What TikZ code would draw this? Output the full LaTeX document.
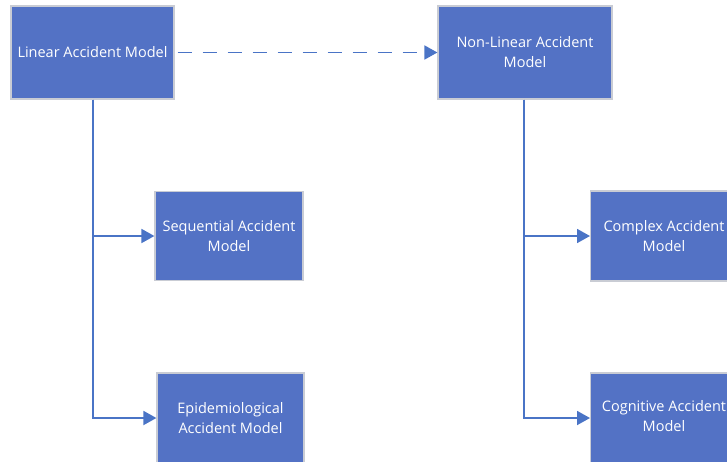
\documentclass[tikz,border=0pt]{standalone}
\usepackage{fontspec}
\setmainfont{Open Sans}
\usetikzlibrary{arrows.meta}
\definecolor{boxfill}{HTML}{5372C5}
\definecolor{boxline}{HTML}{C9CCD4}
\definecolor{linkblue}{HTML}{4A74C6}
\begin{document}
\begin{tikzpicture}[x=1pt,y=-1pt,
  boxtext/.style={text=white, font=\fontsize{14.5}{20}\selectfont, align=center},
  modelbox/.style={draw=boxline, line width=1.2pt, fill=boxfill, boxtext, inner sep=0pt},
  link/.style={draw=linkblue, line width=1.8pt, -{Triangle[length=13pt,width=14pt]}}]
  \useasboundingbox (0,0) rectangle (727,461);
  \clip (0,0) rectangle (727,461);
  % model boxes (corners in pixel coordinates)
  \node[modelbox, minimum width=163pt, minimum height=93pt] (linear) at (92.5,52.5) {Linear Accident Model};
  \node[modelbox, minimum width=174pt, minimum height=93pt] (nonlinear) at (525,52.5) {Non-Linear Accident\\Model};
  \node[modelbox, minimum width=148pt, minimum height=89pt] (sequential) at (229,236) {Sequential Accident\\Model};
  \node[modelbox, minimum width=147pt, minimum height=90pt] (epidemio) at (230.5,418) {Epidemiological\\Accident Model};
  \node[modelbox, minimum width=150pt, minimum height=90pt, anchor=west] (complex) at (590,236) {};
  \node[modelbox, minimum width=150pt, minimum height=90pt, anchor=west] (cognitive) at (590,418) {};
  \node[boxtext] (complextext) at (664,236) {Complex Accident\\Model};
  \node[boxtext] (cognitivetext) at (664,416) {Cognitive Accident\\Model};
  % hierarchy connectors
  \coordinate (ltrunk) at (93,0);
  \coordinate (rtrunk) at (524,0);
  \draw[link] (linear.south -| ltrunk) |- (sequential.west);
  \draw[link] (linear.south -| ltrunk) |- (epidemio.west);
  \draw[link] (nonlinear.south -| rtrunk) |- (complex.west);
  \draw[link] (nonlinear.south -| rtrunk) |- (cognitive.west);
  % evolution from linear to non-linear models
  \draw[link, dash pattern=on 14pt off 11pt, dash phase=-3pt] (linear.east) -- (nonlinear.west);
\end{tikzpicture}
\end{document}
